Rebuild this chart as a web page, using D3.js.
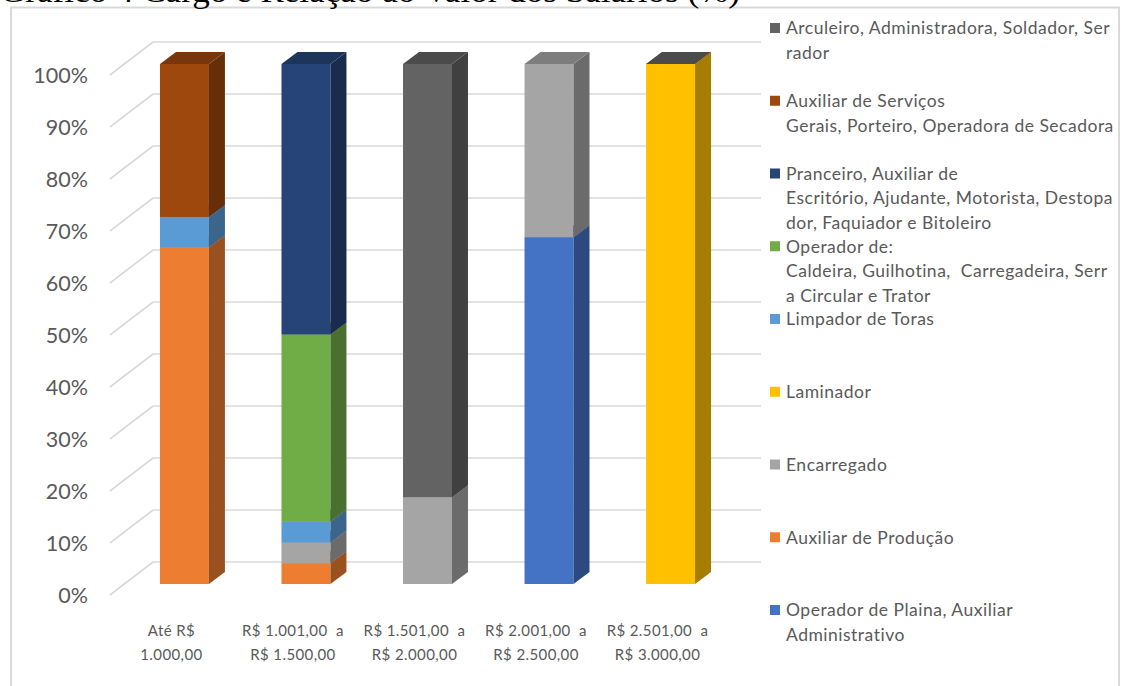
<!DOCTYPE html>
<html>
<head>
<meta charset="utf-8">
<script src="https://cdn.jsdelivr.net/npm/d3@7"></script>
<style>
  html, body { margin: 0; padding: 0; background: #fff; }
  svg { display: block; }
</style>
</head>
<body>
<svg id="chart" width="1126" height="686"></svg>
<script>
// ---------- DATA ----------
const title = "Gráfico 4 Cargo e Relação ao Valor dos Salários (%)";

const categories = [
  "Até R$ 1.000,00",
  "R$ 1.001,00 a R$ 1.500,00",
  "R$ 1.501,00 a R$ 2.000,00",
  "R$ 2.001,00 a R$ 2.500,00",
  "R$ 2.501,00 a R$ 3.000,00"
];
const categoryLabelLines = [
  ["Até R$", "1.000,00"],
  ["R$ 1.001,00  a", "R$ 1.500,00"],
  ["R$ 1.501,00  a", "R$ 2.000,00"],
  ["R$ 2.001,00  a", "R$ 2.500,00"],
  ["R$ 2.501,00  a", "R$ 3.000,00"]
];

// series in stacking order (bottom -> top)
const seriesNames = [
  "Operador de Plaina, Auxiliar Administrativo",
  "Auxiliar de Produção",
  "Encarregado",
  "Laminador",
  "Limpador de Toras",
  "Operador de: Caldeira, Guilhotina, Carregadeira, Serra Circular e Trator",
  "Pranceiro, Auxiliar de Escritório, Ajudante, Motorista, Destopador, Faquiador e Bitoleiro",
  "Auxiliar de Serviços Gerais, Porteiro, Operadora de Secadora",
  "Arculeiro, Administradora, Soldador, Serrador"
];
const seriesColors = ["#4472C4", "#ED7D31", "#A5A5A5", "#FFC000", "#5B9BD5", "#70AD47", "#264478", "#9E480E", "#636363"];

// percentage values per series, one per category (null = no segment)
const operadorPlaina   = [null, null, null, 66.7, null];
const auxProducao      = [64.7, 4,    null, null, null];
const encarregado      = [null, 4,    16.7, 33.3, null];
const laminador        = [null, null, null, null, 100];
const limpadorToras    = [5.9,  4,    null, null, null];
const operadorDe       = [null, 36,   null, null, null];
const pranceiro        = [null, 52,   null, null, null];
const auxServicos      = [29.4, null, null, null, null];
const arculeiro        = [null, null, 83.3, null, 0];
const seriesValues = [operadorPlaina, auxProducao, encarregado, laminador, limpadorToras,
                      operadorDe, pranceiro, auxServicos, arculeiro];

// legend (top -> bottom), with the wrapping of the original
const legendOrder = [8, 7, 6, 5, 4, 3, 2, 1, 0];
const legendLines = [
  ["Operador de Plaina, Auxiliar", "Administrativo"],
  ["Auxiliar de Produção"],
  ["Encarregado"],
  ["Laminador"],
  ["Limpador de Toras"],
  ["Operador de:", "Caldeira, Guilhotina,  Carregadeira, Serr", "a Circular e Trator"],
  ["Pranceiro, Auxiliar de", "Escritório, Ajudante, Motorista, Destopa", "dor, Faquiador e Bitoleiro"],
  ["Auxiliar de Serviços", "Gerais, Porteiro, Operadora de Secadora"],
  ["Arculeiro, Administradora, Soldador, Ser", "rador"]
];

const yTicks = [0, 10, 20, 30, 40, 50, 60, 70, 80, 90, 100];

// ---------- LAYOUT ----------
const svg = d3.select("#chart");
const textColor = "#595959";
const gridColor = "#d9d9d9";
const font = "Lato, 'Open Sans', sans-serif";

// chart area border
svg.append("rect")
  .attr("x", 11).attr("y", 7.5).attr("width", 1108).attr("height", 720)
  .attr("fill", "#fff").attr("stroke", gridColor).attr("stroke-width", 2);

// title (clipped at the top edge, as in the original)
svg.append("text")
  .attr("x", 0).attr("y", 2)
  .attr("font-family", "'Liberation Serif', 'Times New Roman', serif")
  .attr("font-size", 31)
  .attr("fill", "#000")
  .attr("textLength", 740).attr("lengthAdjust", "spacingAndGlyphs")
  .text(title);

// scales (y = front face of bars)
const y = d3.scaleLinear().domain([0, 100]).range([584, 64]);
const x = d3.scaleBand().domain(categories)
  .range([123.75, 731.25]).paddingInner(0.597).paddingOuter(0.298);

// perspective offsets
const wallFront = { dx: 0, dy: 11 };
const wallBack  = { dx: 43, dy: -22 };
const wallX0 = 110;
const barDepth = { dx: 16, dy: -12 };

// gridlines: left wall diagonal + back wall horizontal
const grid = svg.append("g");
yTicks.forEach(t => {
  const yf = y(t) + wallFront.dy;
  const yb = y(t) + wallBack.dy;
  grid.append("line")
    .attr("x1", wallX0).attr("y1", yf).attr("x2", wallX0 + wallBack.dx).attr("y2", yb)
    .attr("stroke", gridColor).attr("stroke-width", 1.6);
  grid.append("line")
    .attr("x1", wallX0 + wallBack.dx).attr("y1", yb).attr("x2", 761).attr("y2", yb)
    .attr("stroke", gridColor).attr("stroke-width", 1.6);
});

// y axis labels
svg.append("g").selectAll("text").data(yTicks).join("text")
  .attr("x", 88).attr("y", d => y(d) + wallFront.dy)
  .attr("dy", "0.36em")
  .attr("text-anchor", "end")
  .attr("font-family", font).attr("font-size", 21.5)
  .attr("fill", textColor)
  .text(d => d + "%");

// bars
const shade = (c, k) => { const r = d3.rgb(c); return d3.rgb(r.r * k, r.g * k, r.b * k).formatHex(); };
const bars = svg.append("g");
categories.forEach((cat, ci) => {
  let cum = 0;
  const x0 = x(cat), x1 = x(cat) + x.bandwidth();
  seriesValues.forEach((vals, si) => {
    const v = vals[ci];
    if (v === null) return;
    const ya = y(cum), yb = y(cum + v);
    cum += v;
    const col = seriesColors[si];
    const g = bars.append("g");
    if (v > 0) {
      g.append("rect")
        .attr("x", x0).attr("y", yb).attr("width", x1 - x0).attr("height", ya - yb)
        .attr("fill", col);
      g.append("path")
        .attr("d", `M${x1},${ya}L${x1 + barDepth.dx},${ya + barDepth.dy}L${x1 + barDepth.dx},${yb + barDepth.dy}L${x1},${yb}Z`)
        .attr("fill", shade(col, 0.65));
    }
    g.append("path")
      .attr("d", `M${x0},${yb}L${x1},${yb}L${x1 + barDepth.dx},${yb + barDepth.dy}L${x0 + barDepth.dx},${yb + barDepth.dy}Z`)
      .attr("fill", shade(col, 0.76));
  });
});

// x labels
const xl = svg.append("g");
categories.forEach((cat, ci) => {
  const cx = x(cat) + x.bandwidth() / 2 - 13;
  categoryLabelLines[ci].forEach((line, li) => {
    xl.append("text")
      .attr("x", cx).attr("y", 636 + li * 23.5)
      .attr("text-anchor", "middle")
      .attr("font-family", font).attr("font-size", 15)
      .attr("letter-spacing", 0.4)
      .attr("fill", textColor)
      .style("white-space", "pre")
      .text(line);
  });
});

// legend
const lg = svg.append("g");
legendOrder.forEach((si, i) => {
  const cy = 28 + i * 72.75;
  lg.append("rect")
    .attr("x", 770).attr("y", cy - 5).attr("width", 10).attr("height", 10)
    .attr("fill", seriesColors[si]);
  legendLines[si].forEach((line, li) => {
    lg.append("text")
      .attr("x", 786).attr("y", cy + li * 24.5)
      .attr("dy", "0.36em")
      .attr("font-family", font).attr("font-size", 17.5)
      .attr("letter-spacing", 0.5)
      .attr("fill", textColor)
      .style("white-space", "pre")
      .text(line);
  });
});
</script>
</body>
</html>
